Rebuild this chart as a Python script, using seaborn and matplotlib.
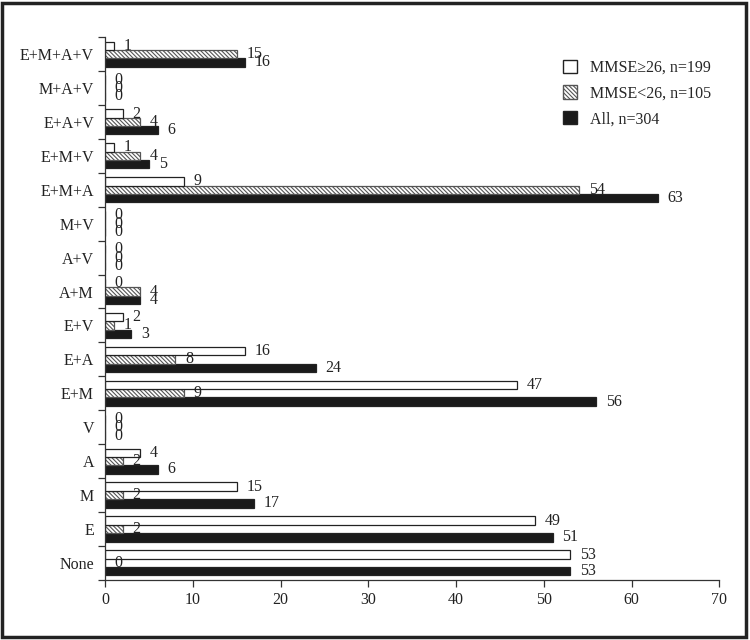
import pandas as pd
import matplotlib.pyplot as plt
import seaborn as sns
from matplotlib.patches import Patch, Rectangle

# Data, bottom to top as in the figure
categories = ['None', 'E', 'M', 'A', 'V', 'E+M', 'E+A', 'E+V', 'A+M', 'A+V',
              'M+V', 'E+M+A', 'E+M+V', 'E+A+V', 'M+A+V', 'E+M+A+V']
mmse_high = [53, 49, 15, 4, 0, 47, 16, 2, 0, 0, 0, 9, 1, 2, 0, 1]
mmse_low = [0, 2, 2, 2, 0, 9, 8, 1, 4, 0, 0, 54, 4, 4, 0, 15]
all_pts = [53, 51, 17, 6, 0, 56, 24, 3, 4, 0, 0, 63, 5, 6, 0, 16]

lab_high = 'MMSE\u226526, n=199'
lab_low = 'MMSE<26, n=105'
lab_all = 'All, n=304'

df = pd.concat([
    pd.DataFrame({'group': categories, 'count': all_pts, 'series': lab_all}),
    pd.DataFrame({'group': categories, 'count': mmse_low, 'series': lab_low}),
    pd.DataFrame({'group': categories, 'count': mmse_high, 'series': lab_high}),
])

sns.set_theme(style='white')
plt.rcParams['font.family'] = ['Liberation Serif', 'DejaVu Serif']
plt.rcParams['hatch.linewidth'] = 0.8

fig = plt.figure(figsize=(7.5, 6.4), dpi=100)
ax = fig.add_axes([0.14, 0.094, 0.819, 0.848])

hue_order = [lab_all, lab_low, lab_high]
colors = ['#1a1a1a', 'white', 'white']
sns.barplot(data=df, x='count', y='group', hue='series', hue_order=hue_order,
            order=categories, orient='h', palette=colors, width=0.74,
            edgecolor='#222222', linewidth=0.9, legend=False, ax=ax)

# hatch the MMSE<26 bars
for p in ax.containers[1]:
    p.set_hatch('\\\\\\\\\\\\\\\\')
    p.set_edgecolor('#555555')

for cont in ax.containers:
    ax.bar_label(cont, padding=7, fontsize=11.5, color='#222222')

ax.set_ylim(-0.5, len(categories) - 0.5)
ax.set_xlim(0, 70)
ax.set_xticks(range(0, 71, 10))
ax.set_yticks(range(len(categories)))
ax.set_yticks([i - 0.5 for i in range(len(categories) + 1)], minor=True)
ax.tick_params(axis='y', which='major', length=0, labelsize=11.5, pad=8,
               labelcolor='#222222')
ax.tick_params(axis='y', which='minor', length=5, width=0.9, direction='out',
               color='#333333', left=True)
ax.tick_params(axis='x', length=5, width=0.9, direction='out', bottom=True,
               labelsize=11.5, labelcolor='#222222', color='#333333')
ax.set_xlabel('')
ax.set_ylabel('')
sns.despine(ax=ax, top=True, right=True)
for s in ['left', 'bottom']:
    ax.spines[s].set_color('#333333')
    ax.spines[s].set_linewidth(0.9)

handles = [
    Patch(facecolor='white', edgecolor='#222222', label=lab_high),
    Patch(facecolor='white', edgecolor='#555555', hatch='\\\\\\\\\\\\\\\\', label=lab_low),
    Patch(facecolor='#1a1a1a', edgecolor='#222222', label=lab_all),
]
ax.legend(handles=handles, loc='upper right', bbox_to_anchor=(1.01, 0.985),
          frameon=False, fontsize=11.5, handlelength=0.9, handleheight=0.9,
          labelspacing=0.6, handletextpad=0.8)

# outer frame of the figure
fig.patches.append(Rectangle((0.003, 0.004), 0.992, 0.992, transform=fig.transFigure,
                             fill=False, edgecolor='#222222', linewidth=2.5))

plt.savefig('out.png', dpi=100)
